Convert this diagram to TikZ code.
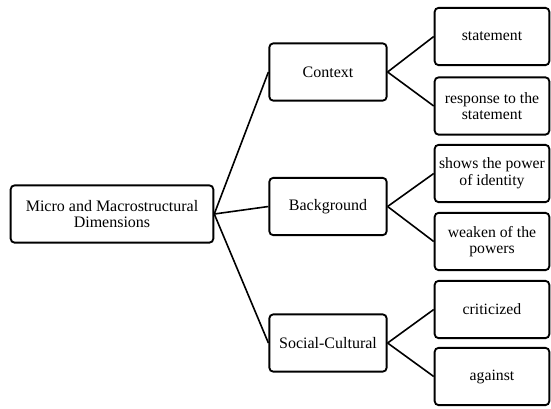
\documentclass[tikz,border=0pt]{standalone}
\usepackage{fontspec}
\setmainfont{Liberation Serif}
\usetikzlibrary{positioning}

\begin{document}
\begin{tikzpicture}[
    x=0.75pt, y=-0.75pt,
    dimbox/.style={rectangle, draw=black, line width=1.4pt, rounded corners=3pt, fill=white, minimum height=43pt, text centered, align=center, font=\fontsize{12}{12.5}\selectfont, inner sep=1pt},
    mainbox/.style={dimbox, minimum width=152pt},
    midbox/.style={dimbox, minimum width=88pt},
    leafbox/.style={dimbox, minimum width=86pt, font=\fontsize{11.8}{12.5}\selectfont},
    link/.style={line width=1.2pt, color=black}
]
\useasboundingbox (0,0) rectangle (551,408);

\node[mainbox] (root) at (112,214) {Micro and Macrostructural\\Dimensions};

\node[midbox] (ctx) at (328,72)    {Context};
\node[midbox] (bgd) at (328,206.5) {Background};
\node[midbox] (soc) at (328,343)   {Social-Cultural};

\node[leafbox] (stm) at (492,36.5)  {statement};
\node[leafbox] (rsp) at (492,106)   {response to the\\statement};
\node[leafbox] (pow) at (492,173.5) {shows the power\\of identity};
\node[leafbox] (wkn) at (492,241.5) {weaken of the\\powers};
\node[leafbox] (crt) at (492,309.5) {criticized};
\node[leafbox] (agn) at (492,376.5) {against};

\draw[link] (root.east) -- (ctx.west);
\draw[link] (root.east) -- (bgd.west);
\draw[link] (root.east) -- (soc.west);

\draw[link] (ctx.east) -- (stm.west);
\draw[link] (ctx.east) -- (rsp.west);
\draw[link] (bgd.east) -- (pow.west);
\draw[link] (bgd.east) -- (wkn.west);
\draw[link] (soc.east) -- (crt.west);
\draw[link] (soc.east) -- (agn.west);
\end{tikzpicture}
\end{document}
